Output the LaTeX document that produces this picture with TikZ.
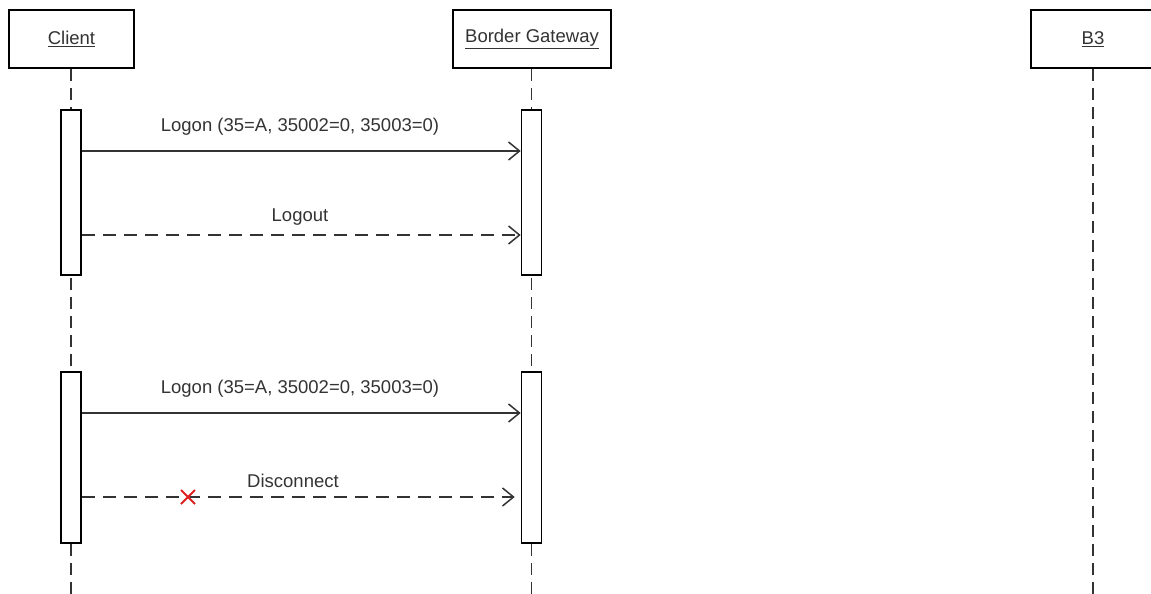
\documentclass[tikz,border=0pt]{standalone}
\usepackage{fontspec}
\setmainfont{Liberation Sans}
\usetikzlibrary{arrows.meta}
\definecolor{ink}{HTML}{333333}
\definecolor{xred}{HTML}{E02020}
\begin{document}
\begin{tikzpicture}[x=1pt,y=-1pt,
  font=\fontsize{18.5}{22}\selectfont,
  actor/.style={draw=black,line width=1.6pt,fill=white,minimum height=58pt,inner sep=0pt,text=ink},
  actbar/.style={draw=black,line width=1.6pt,fill=white,minimum width=20pt,inner sep=0pt},
  life/.style={draw=ink,line width=1.6pt,dash pattern=on 12pt off 7pt},
  msg/.style={draw=ink,line width=1.6pt,-{Straight Barb[length=11pt,width=18pt,line width=1.5pt]}},
  msgdash/.style={msg,dash pattern=on 13pt off 8pt},
  lbl/.style={text=ink,inner sep=0pt}]
\useasboundingbox (0,0) rectangle (1151,594);
% actors
\node[actor,minimum width=125pt] (client) at (71.5,39) {\underline{Client}};
\node[actor,minimum width=158pt] (gw) at (532,39) {\underline{Border Gateway}};
\node[actor,minimum width=124pt] (b3) at (1093,39) {\underline{B3}};
% lifeline ends
\coordinate (cend) at (71,594);
\coordinate (gend) at (531.5,594);
\coordinate (bend) at (1093,594);
\draw[life] (client.south -| cend) -- (cend);
\draw[life] (gw.south -| gend) -- (gend);
\draw[life] (b3.south -| bend) -- (bend);
% activation bars
\node[actbar,minimum height=165pt] (c1) at (71,192.5) {};
\node[actbar,minimum height=165pt] (g1) at (531.5,192.5) {};
\node[actbar,minimum height=171pt] (c2) at (71,457.5) {};
\node[actbar,minimum height=171pt] (g2) at (531.5,457.5) {};
% message levels
\coordinate (y1) at (0,151);
\coordinate (y2) at (0,235);
\coordinate (y3) at (0,413);
\coordinate (y4) at (0,497);
\draw[msg] (c1.east |- y1) -- (g1.west |- y1);
\node[lbl] (l1) at (300,127) {Logon (35=A, 35002=0, 35003=0)};
\draw[msgdash] (c1.east |- y2) -- (g1.west |- y2);
\node[lbl] (l2) at (300,217) {Logout};
\draw[msg] (c2.east |- y3) -- (g2.west |- y3);
\node[lbl] (l3) at (300,389) {Logon (35=A, 35002=0, 35003=0)};
\draw[msgdash,shorten >=6pt] (c2.east |- y4) -- (g2.west |- y4);
\node[lbl] (l4) at (293,481) {Disconnect};
% red cross
\coordinate (xc) at (188,497);
\draw[xred,line width=1.9pt] ([shift={(-7,-7)}]xc) -- ([shift={(7,7)}]xc);
\draw[xred,line width=1.9pt] ([shift={(-7,7)}]xc) -- ([shift={(7,-7)}]xc);
\end{tikzpicture}
\end{document}
